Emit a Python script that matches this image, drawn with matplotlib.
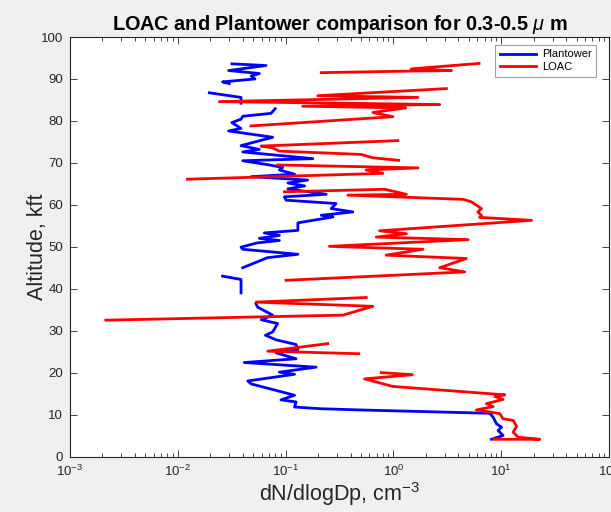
import numpy as np
import matplotlib
matplotlib.use("Agg")
import matplotlib.pyplot as plt
from matplotlib.ticker import LogLocator, FixedLocator

nan = np.nan

# Plantower series (altitude kft, dN/dlogDp cm^-3); nan = gap in the trace
plantower_alt = [93.6, 93.2, 92.0, 91.3, 90.7, 90.0, 89.3, 88.9, nan,
                 86.7, 85.6, 84.2, nan,
                 82.9, 81.8, 81.1, 80.4, 79.6, 78.2, 77.6, 76.1, 74.1, 73.2, 72.6, 71.0,
                 70.5, 69.5, 68.9, 68.3, 67.3, 66.7, 65.9, 65.2, 64.5, 63.8, 62.5, 61.9,
                 61.1, 60.3, 59.1, 58.3, 57.5, 57.1, 55.7, 53.9, 53.3, 52.7, 52.0, 51.5,
                 50.9, 49.9, 49.4, 48.2, 47.4, 45.0, nan,
                 43.0, 42.2, 39.0, nan,
                 36.4, 35.6, 33.7, 32.6, 31.7, 29.7, 28.9, 27.8, 26.7, 25.5, 24.7, 23.3,
                 22.4, 21.3, 20.1, 19.6, 18.0, 17.3, 14.6, 13.5, 13.0, 11.8, 11.4, 11.1,
                 10.3, 9.4, 7.8, 7.0, 6.2, 5.0, 4.1]
plantower_val = [0.0318, 0.0659, 0.0296, 0.0571, 0.0478, 0.052, 0.026, 0.030, nan,
                 0.0196, 0.0386, 0.0386, nan,
                 0.080, 0.0733, 0.040, 0.0386, 0.0317, 0.0386, 0.0296, 0.0759, 0.0386,
                 0.0571, 0.040, 0.179,
                 0.040, 0.0707, 0.094, 0.0875, 0.121, 0.0478, 0.160, 0.105, 0.150, 0.105,
                 0.238, 0.0975,
                 0.101, 0.294, 0.265, 0.421, 0.214, 0.275, 0.130, 0.130, 0.0635, 0.0875,
                 0.0571, 0.0875,
                 0.054, 0.0386, 0.040, 0.130, 0.068, 0.040, nan,
                 0.026, 0.0386, 0.0386, nan,
                 0.0532, 0.055, 0.0759, 0.0594, 0.0843, 0.0759, 0.065, 0.0818, 0.125,
                 0.130, 0.0818, 0.125,
                 0.0414, 0.192, 0.0875, 0.121, 0.0445, 0.048, 0.121, 0.0906, 0.125,
                 0.121, 0.206, 0.485,
                 7.83, 8.41, 9.04, 10.07, 9.36, 10.4, 8.13]

# LOAC series
loac_alt = [93.7, 92.4, 92.0, 91.9, 91.5, nan,
            87.7, 86.0, 85.6, 84.6, 83.9, 83.5, 83.1, 82.0, 81.0, 78.8, nan,
            75.3, 74.0, 73.6, 72.8, 72.0, 71.2, 70.6, nan,
            69.5, 68.8, 68.3, 67.5, 66.1, nan,
            63.1, 63.7, 62.5, 62.3, 61.3, 60.7, 59.1, 58.3, 57.5, 57.0, 56.3, 53.8,
            53.1, 52.3, 51.7, 50.1, 49.4, 48.0, 47.2, 45.0, 44.0, 42.0, nan,
            37.9, 36.8, 35.8, 33.7, 32.5, nan,
            26.9, 25.1, 24.5, nan,
            20.0, 19.5, 18.5, 16.7, 14.7, 14.3, 13.6, 12.6, 11.9, 11.1, 10.6, 10.2,
            9.0, 8.6, 7.2, 5.8, 4.6, 4.1, 4.1]
loac_val = [6.23, 1.47, 3.45, 1.6, 0.214, nan,
            3.10, 0.199, 1.69, 0.0243, 2.69, 0.144, 1.30, 0.645, 0.989, 0.0478, nan,
            1.10, 0.0592, 0.075, 0.0875, 0.503, 0.645, 1.12, nan,
            0.0845, 1.69, 0.559, 0.798, 0.0123, nan,
            0.0975, 0.828, 1.32, 0.378, 4.43, 5.30, 6.56, 6.07, 6.56, 6.3, 19.1, 0.745,
            1.32, 0.693, 4.93, 0.255, 1.88, 0.857, 4.75, 2.69, 4.59, 0.101, nan,
            0.560, 0.0532, 0.644, 0.340, 0.00215, nan,
            0.246, 0.0682, 0.478, nan,
            0.771, 1.50, 0.540, 0.989, 10.8, 8.73, 10.4, 7.30, 8.41, 5.89, 7.83, 9.71,
            10.4, 12.9, 13.9, 12.9, 14.4, 22.8, 8.6]

title = "LOAC and Plantower comparison for 0.3-0.5 $\\mu$ m"
xlabel = "dN/dlogDp, cm$^{-3}$"
ylabel = "Altitude, kft"
yticks = list(range(0, 101, 10))

plt.rcParams['font.family'] = ['Liberation Sans', 'DejaVu Sans']
plt.rcParams['mathtext.fontset'] = 'custom'
plt.rcParams['mathtext.rm'] = 'Liberation Sans'
plt.rcParams['mathtext.it'] = 'Liberation Sans:italic'
plt.rcParams['mathtext.bf'] = 'Liberation Sans:bold'

dark = '#262626'
fig = plt.figure(figsize=(6.11, 5.12), dpi=100, facecolor='#f0f0f0')
ax = fig.add_axes([70/611, 1 - 456.5/512, 539/611, 419.5/512])
ax.set_facecolor('white')

ax.plot(plantower_val, plantower_alt, color='#0000ff', lw=2.0, label='Plantower')
ax.plot(loac_val, loac_alt, color='#ff0000', lw=2.0, label='LOAC')

ax.set_xscale('log')
ax.set_xlim(1e-3, 1e2)
ax.set_ylim(0, 100)
ax.yaxis.set_major_locator(FixedLocator(yticks))
ax.xaxis.set_major_locator(LogLocator(base=10, numticks=10))
ax.xaxis.set_minor_locator(LogLocator(base=10, subs=np.arange(2, 10), numticks=100))

for s in ax.spines.values():
    s.set_color(dark)
    s.set_linewidth(0.8)
ax.tick_params(which='both', direction='in', top=True, right=True, color=dark,
               labelcolor=dark, labelsize=9.5, width=0.6)
ax.tick_params(which='major', length=5, pad=5)
ax.tick_params(which='minor', length=2.8)

ax.set_title(title, fontsize=14.3, fontweight='bold', color='black', pad=5)
ax.set_xlabel(xlabel, fontsize=15.5, color=dark, labelpad=1)
ax.set_ylabel(ylabel, fontsize=15.5, color=dark, labelpad=-5)

leg = ax.legend(loc='upper right', bbox_to_anchor=(1 - 13/539, 1 - 8/419.5),
                borderaxespad=0, fontsize=8, fancybox=False, framealpha=1,
                edgecolor='#a0a0a0', handlelength=3.3, handletextpad=0.5,
                borderpad=0.4, labelspacing=0.25)
leg.get_frame().set_linewidth(0.8)

fig.savefig('out.png', dpi=100, facecolor=fig.get_facecolor())
